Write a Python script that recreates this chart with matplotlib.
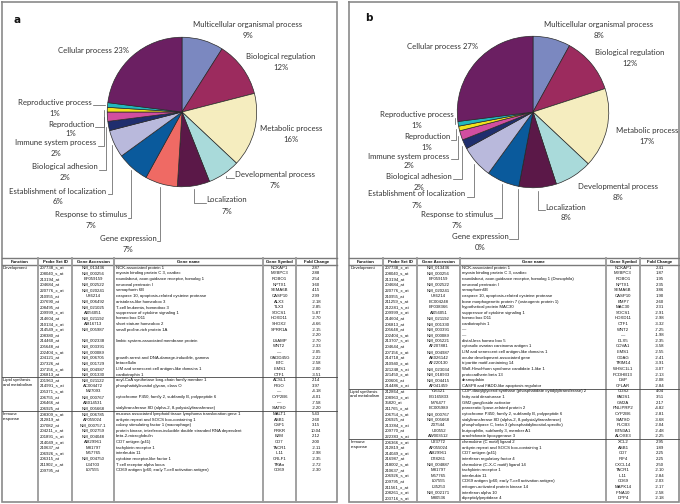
import matplotlib
matplotlib.use("Agg")
import matplotlib.pyplot as plt
import numpy as np

# ---------------- data ----------------
categories = ["Multicellular organismal process", "Biological regulation", "Metabolic process",
              "Developmental process", "Localization", "Gene expression", "Response to stimulus",
              "Establishment of localization", "Biological adhesion", "Immune system process",
              "Reproduction", "Reproductive process", "Cellular process"]
pct_a = [9, 12, 16, 7, 7, 7, 7, 6, 2, 2, 1, 1, 23]
pct_b = [8, 12, 17, 8, 8, 0, 7, 7, 2, 2, 1, 1, 27]
slice_colors = ["#7b88c0", "#9c2b5e", "#f5edbf", "#a9dada", "#5b1848", "#ef6a64", "#0a5a9c",
                "#b9b9dc", "#1f2e6e", "#d24ea0", "#f2e21c", "#21b7bd", "#6b1f62"]

headers = ["Function", "Probe Set ID", "Gene Accession", "Gene name", "Gene Symbol", "Fold Change"]

groups_a = [("Development", 20), ("Lipid synthesis\nand metabolism", 6), ("Immune\nresponse", 11)]
probe_a = ["207738_s_at", "208040_s_at", "213194_at", "204684_at", "220776_x_at", "210955_at",
           "207690_at", "208495_at", "209999_x_at", "214604_at", "210134_x_at", "214549_x_at",
           "208380_at", "214460_at", "205648_at", "202404_s_at", "204121_at", "207326_at",
           "207156_x_at", "206813_at",
           "201963_at", "214991_s_at", "205371_s_at", "206755_at", "206466_at", "206925_at",
           "208309_s_at", "212819_at", "207082_at", "204211_x_at", "201891_s_at", "214049_x_at",
           "210637_at", "206926_s_at", "206315_at", "211902_x_at", "209795_at"]
accession_a = ["NM_013436", "NM_000256", "BF059159", "NM_002522", "NM_020241", "U86214",
               "NM_006492", "NM_021025", "AI056051", "NM_021192", "AI816713", "NM_005987",
               "", "NM_002338", "NM_003391", "NM_000089", "NM_006705", "NM_001729",
               "NM_004987", "NM_001330",
               "NM_021122", "AC004472", "M27093", "NM_000767", "AB014531", "NM_005668",
               "NM_006785", "AF055024", "NM_000757.1", "NM_002759", "NM_004048", "AI829961",
               "M81797", "M57765", "NM_004750", "L34703", "L07555"]
genename_a = ["NCK-associated protein 1", "myosin binding protein C 3, cardiac",
              "roundabout, axon guidance receptor, homolog 1", "neuronal pentraxin I",
              "semaphorin 6B", "caspase 10, apoptosis-related cysteine protease",
              "aristaless-like homeobox 3", "T-cell leukemia, homeobox 3",
              "suppressor of cytokine signaling 1", "homeo box D11", "short stature homeobox 2",
              "small proline-rich protein 1A", "", "limbic system-associated membrane protein",
              "", "", "growth arrest and DNA-damage-inducible, gamma", "betacellulin",
              "LIM and senescent cell antigen-like domains 1", "cardiotrophin 1",
              "acyl-CoA synthetase long-chain family member 1", "phosphatidylinositol glycan, class O",
              "", "cytochrome P450, family 2, subfamily B, polypeptide 6", "",
              "sialyltransferase 8D (alpha-2, 8-polysialyltransferase)",
              "mucosa associated lymphoid tissue lymphoma translocation gene 1",
              "ankyrin repeat and SOCS box-containing 1", "colony stimulating factor 1 (macrophage)",
              "protein kinase, interferon-inducible double stranded RNA dependent",
              "beta-2-microglobulin", "CD7 antigen (p41)", "tachykinin receptor 1", "interleukin 11",
              "cytokine receptor-like factor 1", "T cell receptor alpha locus",
              "CD69 antigen (p60, early T-cell activation antigen)"]
symbol_a = ["NCKAP1", "MYBPC3", "ROBO1", "NPTX1", "SEMA6B", "CASP10", "ALX3", "TLX3", "SOCS1",
            "HOXD11", "SHOX2", "SPRR1A", "", "LSAMP", "WNT2", "\u2014", "GADD45G", "BTC", "LIMS1",
            "CTF1",
            "ACSL1", "PIGO", "\u2014", "CYP2B6", "\u2014", "SIAT8D",
            "MALT1", "ASB1", "CSF1", "PRKR", "B2M", "CD7", "TACR1", "IL11", "CRLF1", "TRA\u03b1",
            "CD69"]
fold_a = [2.87, 2.88, 2.54, 3.60, 4.15, 2.99, -2.18, -2.85, -5.87, -2.70, -4.66, -2.15, -2.20,
          -2.70, -2.33, -2.05, -2.22, -2.58, -2.00, -3.51,
          2.14, 3.97, -4.18, -4.01, -7.58, -2.20,
          5.43, 2.60, 3.15, 10.04, 2.12, 2.00, -2.11, -2.98, -2.35, -2.72, -2.30]

groups_b = [("Development", 22), ("Lipid synthesis\nand metabolism", 9), ("Immune\nresponse", 11)]
probe_b = ["207738_x_at", "208040_s_at", "213194_at", "204684_at", "220776_x_at", "210955_at",
           "211259_s_at", "212281_s_at", "209999_x_at", "214604_at", "206813_at", "205648_at",
           "202404_s_at", "213707_s_at", "204644_at", "207156_x_at", "214718_at", "210940_x_at",
           "221248_s_at", "221450_x_at", "200606_at", "214486_x_at",
           "212864_at", "208963_x_at", "35820_at", "211765_x_at", "206754_s_at", "206925_at",
           "213384_x_at", "209770_at", "222383_s_at",
           "206366_x_at", "212819_at", "214049_x_at", "216987_at", "218002_s_at", "210637_at",
           "206926_s_at", "209795_at", "211561_x_at", "208261_x_at", "203716_s_at"]
accession_b = ["NM_013436", "NM_000256", "BF059159", "NM_002522", "NM_020241", "U86214",
               "BC004248", "BF038366", "AI056051", "NM_021192", "NM_001330", "NM_003391",
               "NM_000089", "NM_005221", "AF207881", "NM_004987", "AK026142", "AF220130",
               "NM_023034", "NM_018933", "NM_004415", "AF041459",
               "Y16521", "BG165833", "M76477", "BC005989", "NM_000767", "NM_005668",
               "Z37544", "U90552", "AW003512",
               "U23772", "AF055024", "AI829961", "D78261", "NM_004887", "M81797",
               "M57765", "L07555", "L35253", "NM_002171", "M80536"]
genename_b = ["NCK-associated protein 1", "myosin binding protein C 3, cardiac",
              "roundabout, axon guidance receptor, homolog 1 (Drosophila)", "neuronal pentraxin I",
              "semaphorin6B", "caspase 10, apoptosis-related cysteine protease",
              "bone morphogenetic protein 7 (osteogenic protein 1)", "hypothetical protein MAC30",
              "suppressor of cytokine signaling 1", "homeo box D11", "cardiotrophin 1",
              "\u2014", "\u2014", "distal-less homeo box 5", "cytosolic ovarian carcinoma antigen 1",
              "LIM and senescent cell antigen-like domains 1", "ocular development-associated gene",
              "tripartite motif-containing 14", "Wolf-Hirschhorn syndrome candidate 1-like 1",
              "protocadherin beta 13", "desmoplakin", "CASP8 and FADD-like apoptosis regulator",
              "CDP-diacylglycerol synthase (phosphatidate cytidylyltransferase) 2",
              "fatty acid desaturase 1", "GM2 ganglioside activator",
              "pancreatic lipase-related protein 2",
              "cytochrome P450, family 2, subfamily B, polypeptide 6",
              "sialyltransferase 8D (alpha-2, 8-polysialyltransferase)",
              "phospholipase C, beta 3 (phosphatidylinositol-specific)",
              "butyrophilin, subfamily 3, member A1", "arachidonate lipoxygenase 3",
              "chemokine (C motif) ligand 2", "ankyrin repeat and SOCS box-containing 1",
              "CD7 antigen (p41)", "interferon regulatory factor 4",
              "chemokine (C-X-C motif) ligand 14", "tachykinin receptor 1", "interleukin 11",
              "CD69 antigen (p60, early T-cell activation antigen)",
              "mitogen-activated protein kinase 14", "interferon alpha 10", "dipeptidylpeptidase 4"]
symbol_b = ["NCKAP1", "MYBPC3", "ROBO1", "NPTX1", "SEMA6B", "CASP10", "BMP7", "MAC30", "SOCS1",
            "HOXD11", "CTF1", "WNT2", "\u2014", "DLX5", "COVA1", "LIMS1", "ODAG", "TRIM14",
            "WHSC1L1", "PCDHB13", "DSP", "CFLAR",
            "CDS2", "FADS1", "GM2A", "PNLIPRP2", "CYP2B6", "SIAT8D", "PLCB3", "BTN3A1", "ALOXE3",
            "XCL2", "ASB1", "CD7", "IRF4", "CXCL14", "TACR1", "IL11", "CD69", "MAPK14", "IFNA10",
            "DPP4"]
fold_b = [2.41, 1.87, 1.95, 2.35, 3.86, 1.90, 2.60, 2.31, -2.91, -2.98, -3.32, -7.25, -1.98,
          -2.35, -3.58, -2.55, -2.41, -3.91, -3.07, -2.13, -2.08, -2.84,
          4.04, 3.51, 2.17, -4.82, -2.81, -3.68, -2.04, -2.48, -2.25,
          2.95, 1.89, 2.25, 2.25, 2.50, -2.10, -2.84, -2.03, -2.17, -2.58, -2.18]

# ---------------- layout (pixel coordinates, origin top-left) ----------------
W, H = 680, 504
LABEL_FONT = "Lato"
TABLE_FONT = "Liberation Sans"

panel_a = dict(letter="a", letter_xy=(14, 20), frame=(1.5, 1.5, 336.5, 502),
               center=(182, 112), radius=75.5, pct=pct_a,
               labels={"Multicellular organismal process": (248, 24, 35, None),
                       "Biological regulation": (281, 56, 67, None),
                       "Metabolic process": (291, 129, 140, None),
                       "Developmental process": (275, 175, 185, "R"),
                       "Localization": (227, 200, 211, "R"),
                       "Gene expression": (128, 238, 249, "L"),
                       "Response to stimulus": (91, 215, 226, "L"),
                       "Establishment of localization": (58, 191, 201, "L"),
                       "Biological adhesion": (65, 167, 178, "L"),
                       "Immune system process": (56, 143, 153, "L"),
                       "Reproduction": (71, 124, 134, "L"),
                       "Reproductive process": (55, 102, 113, "L"),
                       "Cellular process": (94, 51, None, None)},
               cols=[1.5, 38, 72, 114, 263, 296, 336.5],
               groups=groups_a, probe=probe_a, acc=accession_a, name=genename_a,
               sym=symbol_a, fold=fold_a)
panel_b = dict(letter="b", letter_xy=(365, 18), frame=(349, 2, 679, 502),
               center=(533, 112), radius=76.5, pct=pct_b,
               labels={"Multicellular organismal process": (599, 24, 35, None),
                       "Biological regulation": (630, 53, 63, None),
                       "Metabolic process": (647, 130, 141, None),
                       "Developmental process": (618, 186, 197, None),
                       "Localization": (566, 207, 218, "R"),
                       "Gene expression": (480, 236, 247, "L"),
                       "Response to stimulus": (457, 215, 226, "L"),
                       "Establishment of localization": (417, 194, 205, "L"),
                       "Biological adhesion": (419, 176, 188, "L"),
                       "Immune system process": (409, 156, 166, "L"),
                       "Reproduction": (427, 137, 147, "L"),
                       "Reproductive process": (417, 115, 125, "L"),
                       "Cellular process": (443, 47, None, None)},
               cols=[349, 383, 417, 460, 606, 640, 679],
               groups=groups_b, probe=probe_b, acc=accession_b, name=genename_b,
               sym=symbol_b, fold=fold_b)

TABLE_TOP, HEADER_BOT, ROW_H = 258, 265, 5.62

fig = plt.figure(figsize=(W / 100, H / 100), dpi=100)
fig.patch.set_facecolor("white")
ov = fig.add_axes([0, 0, 1, 1])
ov.set_xlim(0, W)
ov.set_ylim(H, 0)
ov.axis("off")

label_texts = []

for P in (panel_a, panel_b):
    x0, y0, x1, y1 = P["frame"]
    # frame
    ov.plot([x0, x1, x1, x0, x0], [y0, y0, y1, y1, y0], color="#8a8a8a", lw=1.2,
            solid_joinstyle="miter")
    ov.text(*P["letter_xy"], P["letter"], fontsize=7.5, fontweight="bold",
            family="DejaVu Sans", ha="left", va="center", color="#111")
    # pie
    cx, cy = P["center"]
    r = P["radius"]
    pax = fig.add_axes([(cx - r) / W, 1 - (cy + r) / H, 2 * r / W, 2 * r / H])
    pax.pie(P["pct"], colors=slice_colors, startangle=90, counterclock=False, radius=1,
            wedgeprops=dict(edgecolor="#2a2a2a", linewidth=0.5))
    pax.set_xlim(-1.01, 1.01)
    pax.set_ylim(-1.01, 1.01)
    pax.axis("off")
    # labels
    vals = np.array(P["pct"], dtype=float)
    cum = np.cumsum(vals) - vals / 2.0
    for i, cat in enumerate(categories):
        lx, ly, py, side = P["labels"][cat]
        if py is None:
            ov.text(lx, ly, f"{cat} {P['pct'][i]}%", fontsize=5.6, family=LABEL_FONT,
                    ha="center", va="center", color="#333333")
            continue
        t = ov.text(lx, ly, cat, fontsize=5.6, family=LABEL_FONT, ha="center", va="center",
                    color="#333333")
        ov.text(lx, py, f"{P['pct'][i]}%", fontsize=5.6, family=LABEL_FONT, ha="center",
                va="center", color="#333333")
        if side is not None:
            theta = np.deg2rad(360.0 * cum[i] / vals.sum())
            ax_ = cx + r * 1.03 * np.sin(theta)
            ay_ = cy - r * 1.03 * np.cos(theta)
            label_texts.append((t, side, ax_, ay_, ly))

    # table
    cols = P["cols"]
    tb = y1
    ov.plot([x0, x1], [TABLE_TOP, TABLE_TOP], color="#7a7a7a", lw=1.0)
    ov.plot([x0, x1], [HEADER_BOT, HEADER_BOT], color="#7a7a7a", lw=1.0)
    for c in cols[1:-1]:
        ov.plot([c, c], [TABLE_TOP, tb], color="#9a9a9a", lw=1.3)
    for j, h in enumerate(headers):
        ov.text((cols[j] + cols[j + 1]) / 2, (TABLE_TOP + HEADER_BOT) / 2 + 0.3, h,
                fontsize=3.1, fontweight="bold", family=TABLE_FONT, ha="center", va="center",
                color="#111")
    row = 0
    for gi, (gname, n) in enumerate(P["groups"]):
        gy = HEADER_BOT + row * ROW_H
        ov.text(cols[0] + 1.5, gy + ROW_H / 2, gname, fontsize=3.1, family=TABLE_FONT,
                ha="left", va="top" if "\n" in gname else "center", color="#111",
                linespacing=1.15) if "\n" not in gname else \
            ov.text(cols[0] + 1.5, gy + 1.0, gname, fontsize=3.1, family=TABLE_FONT,
                    ha="left", va="top", color="#111", linespacing=1.2)
        if gi > 0:
            ov.plot([x0, x1], [gy, gy], color="#444444", lw=0.6)
        row += n
    for k in range(len(P["probe"])):
        yy = HEADER_BOT + (k + 0.5) * ROW_H
        ov.text(cols[1] + 1.5, yy, P["probe"][k], fontsize=3.1, family=TABLE_FONT,
                ha="left", va="center", color="#111")
        ov.text((cols[2] + cols[3]) / 2, yy, P["acc"][k], fontsize=3.1, family=TABLE_FONT,
                ha="center", va="center", color="#111")
        ov.text(cols[3] + 1.5, yy, P["name"][k], fontsize=3.1, family=TABLE_FONT,
                ha="left", va="center", color="#111")
        ov.text((cols[4] + cols[5]) / 2, yy, P["sym"][k], fontsize=3.1, family=TABLE_FONT,
                ha="center", va="center", color="#111")
        ov.text((cols[5] + cols[6]) / 2, yy, f"{P['fold'][k]:.2f}", fontsize=3.1,
                family=TABLE_FONT, ha="center", va="center", color="#111")

# leader lines, attached to the measured label extents
fig.canvas.draw()
renderer = fig.canvas.get_renderer()
inv = ov.transData.inverted()
for t, side, ax_, ay_, ly in label_texts:
    bb = t.get_window_extent(renderer)
    (bx0, _), (bx1, _) = inv.transform([[bb.x0, bb.y0], [bb.x1, bb.y1]])
    hy = ly + 3
    if side == "L":
        xs = [bx1 + 1, ax_, ax_]
    else:
        xs = [bx0 - 1, ax_, ax_]
    ys = [hy, hy, ay_]
    ov.plot(xs, ys, color="#555555", lw=0.5)

fig.savefig("out.png", dpi=100, facecolor="white")
